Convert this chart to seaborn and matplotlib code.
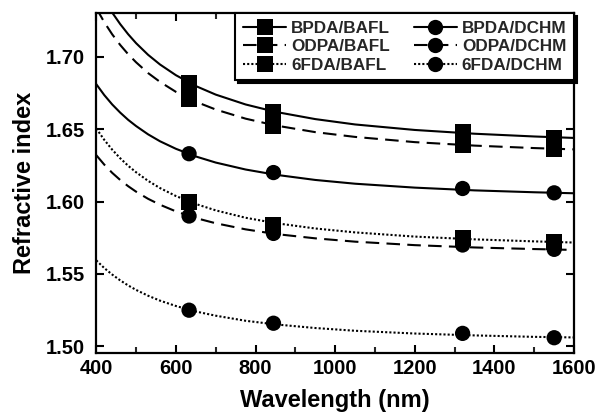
import numpy as np
import pandas as pd
import matplotlib
matplotlib.use("Agg")
import matplotlib.pyplot as plt
from matplotlib.lines import Line2D
import seaborn as sns

# ---- measured data (markers) ----
wl_points = [633, 845, 1320, 1550]
bpda_bafl = [1.682, 1.662, 1.648, 1.644]
odpa_bafl = [1.671, 1.652, 1.639, 1.636]
fda_bafl = [1.600, 1.584, 1.575, 1.572]
bpda_dchm = [1.633, 1.620, 1.609, 1.606]
odpa_dchm = [1.590, 1.578, 1.570, 1.567]
fda_dchm = [1.525, 1.516, 1.509, 1.506]

# ---- fitted curves, values ----
wl_curve = [400, 420, 440, 460, 480, 500, 530, 560, 600, 650, 700, 775, 850,
            950, 1050, 1200, 1350, 1500, 1600]
curve_bpda_bafl = [1.7501, 1.7396, 1.7304, 1.7225, 1.7155, 1.7093, 1.7013, 1.6946,
                   1.6872, 1.6797, 1.6738, 1.6670, 1.6619, 1.6569, 1.6532, 1.6494,
                   1.6468, 1.6449, 1.6439]
curve_odpa_bafl = [1.7335, 1.7238, 1.7154, 1.7081, 1.7017, 1.6961, 1.6887, 1.6826,
                   1.6757, 1.6689, 1.6635, 1.6572, 1.6525, 1.6479, 1.6446, 1.6410,
                   1.6386, 1.6369, 1.6360]
curve_fda_bafl = [1.6504, 1.6426, 1.6358, 1.6299, 1.6247, 1.6202, 1.6143, 1.6093,
                  1.6038, 1.5983, 1.5939, 1.5888, 1.5851, 1.5814, 1.5787, 1.5758,
                  1.5739, 1.5725, 1.5717]
curve_bpda_dchm = [1.6810, 1.6735, 1.6670, 1.6614, 1.6564, 1.6521, 1.6464, 1.6416,
                   1.6364, 1.6311, 1.6269, 1.6221, 1.6185, 1.6149, 1.6123, 1.6096,
                   1.6077, 1.6064, 1.6057]
curve_odpa_dchm = [1.6320, 1.6255, 1.6198, 1.6149, 1.6106, 1.6068, 1.6019, 1.5978,
                   1.5932, 1.5886, 1.5850, 1.5808, 1.5776, 1.5746, 1.5723, 1.5699,
                   1.5683, 1.5672, 1.5666]
curve_fda_dchm = [1.5594, 1.5541, 1.5496, 1.5456, 1.5421, 1.5390, 1.5350, 1.5316,
                  1.5279, 1.5241, 1.5212, 1.5177, 1.5152, 1.5127, 1.5108, 1.5089,
                  1.5076, 1.5066, 1.5062]

labels = ["BPDA/BAFL", "ODPA/BAFL", "6FDA/BAFL", "BPDA/DCHM", "ODPA/DCHM", "6FDA/DCHM"]
x_ticks = [400, 600, 800, 1000, 1200, 1400, 1600]
y_ticks = [1.50, 1.55, 1.60, 1.65, 1.70]

sns.set_theme(style="ticks")
plt.rcParams["font.family"] = ["Liberation Sans", "DejaVu Sans"]
plt.rcParams["font.weight"] = "bold"

fig = plt.figure(figsize=(5.98, 4.12), dpi=100)
ax = fig.add_axes([0.161, 0.143, 0.799, 0.825])

points = [bpda_bafl, odpa_bafl, fda_bafl, bpda_dchm, odpa_dchm, fda_dchm]
curves = [curve_bpda_bafl, curve_odpa_bafl, curve_fda_bafl,
          curve_bpda_dchm, curve_odpa_dchm, curve_fda_dchm]
dash_styles = [(None), (6.5, 3.5), (1.0, 1.0), (None), (6.5, 3.5), (1.0, 1.0)]
markers = ["s", "s", "s", "o", "o", "o"]
msizes = [11.5, 11.5, 11.5, 11, 11, 11]
lw = 1.5

handles = []
for lab, pts, cv, ds, mk, ms in zip(labels, points, curves, dash_styles, markers, msizes):
    dfc = pd.DataFrame({"wl": wl_curve, "n": cv})
    sns.lineplot(data=dfc, x="wl", y="n", ax=ax, sort=False, color="black", lw=lw)
    l = ax.lines[-1]
    if ds is not None:
        l.set_dashes(ds)
    dfp = pd.DataFrame({"wl": wl_points, "n": pts})
    sns.scatterplot(data=dfp, x="wl", y="n", ax=ax, marker=mk, color="black",
                    s=ms ** 2, edgecolor="none", zorder=5)
    h = Line2D([], [], color="black", lw=lw, marker=mk, markersize=ms,
               markeredgewidth=0)
    if ds is not None:
        h.set_dashes(ds)
    handles.append(h)

ax.set_xlim(400, 1600)
ax.set_ylim(1.4954, 1.730)
ax.set_xticks(x_ticks)
ax.set_xticks(np.arange(500, 1600, 200), minor=True)
ax.set_yticks(y_ticks)
ax.set_yticklabels([f"{v:.2f}" for v in y_ticks])
ax.set_xticklabels([str(v) for v in x_ticks])

for sp in ax.spines.values():
    sp.set_visible(True)
    sp.set_linewidth(1.6)
    sp.set_color("black")

ax.tick_params(axis="both", which="major", direction="in", length=5.5, width=1.5,
               top=True, right=True, labelsize=14.5, colors="black")
ax.tick_params(axis="both", which="minor", direction="in", length=4, width=1.5,
               top=True, right=True)
ax.tick_params(axis="y", which="major", pad=8)
ax.tick_params(axis="x", which="major", pad=4)
for t in ax.get_xticklabels() + ax.get_yticklabels():
    t.set_fontweight("bold")

ax.set_xlabel("Wavelength (nm)", fontsize=17, fontweight="bold", labelpad=8, color="black")
ax.set_ylabel("Refractive index", fontsize=17, fontweight="bold", labelpad=7, color="black")

leg = ax.legend(handles, labels, ncol=2, loc="upper right", bbox_to_anchor=(1, 1),
                borderaxespad=0, frameon=True, fancybox=False,
                prop={"family": ["Liberation Sans"], "weight": "bold", "size": 12.3},
                handlelength=2.5, handletextpad=0.3, columnspacing=1.4,
                labelspacing=0.2, borderpad=0.45,
                shadow={"color": "black", "alpha": 1})
leg.get_frame().set_edgecolor("black")
leg.get_frame().set_linewidth(1.5)
leg.get_frame().set_alpha(1)

fig.savefig("out.png", dpi=100)
